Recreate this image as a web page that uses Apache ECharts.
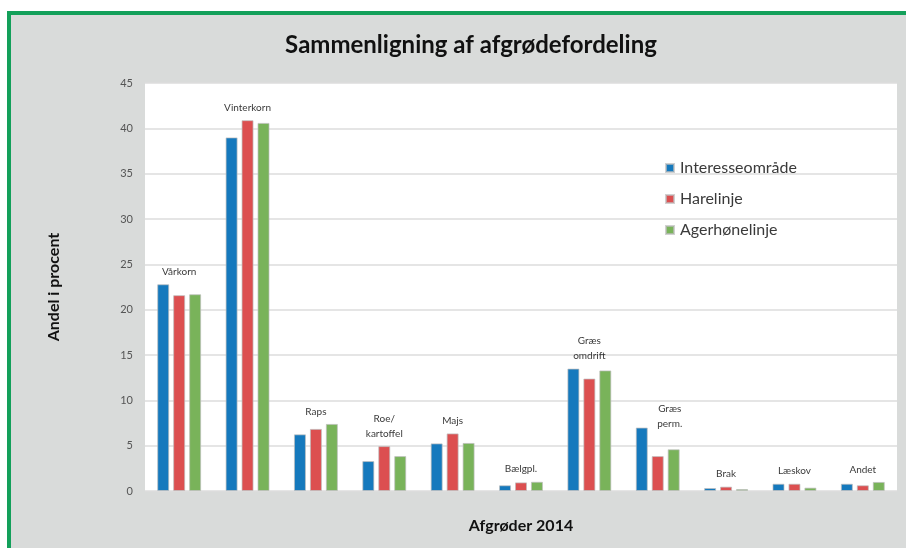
<!DOCTYPE html>
<html>
<head>
<meta charset="utf-8">
<script src="https://cdn.jsdelivr.net/npm/echarts@6/dist/echarts.min.js"></script>
<style>
html, body { margin: 0; padding: 0; background: #fff; }
#chart { width: 906px; height: 548px; }
</style>
</head>
<body>
<div id="chart"></div>
<script>
// Afgrøder og andele (%)
var afgroder = ['Vårkorn', 'Vinterkorn', 'Raps', 'Roe/\nkartoffel', 'Majs', 'Bælgpl.', 'Græs\nomdrift', 'Græs\nperm.', 'Brak', 'Læskov', 'Andet'];
var interesseomraade = [22.8, 39.0, 6.25, 3.3, 5.25, 0.63, 13.5, 7.0, 0.33, 0.8, 0.8];
var harelinje = [21.6, 40.9, 6.85, 4.95, 6.35, 0.95, 12.4, 3.85, 0.48, 0.8, 0.63];
var agerhonelinje = [21.7, 40.6, 7.4, 3.85, 5.3, 1.02, 13.3, 4.6, 0.22, 0.37, 1.0];
var yTicks = [0, 45, 5];

var fontFam = 'Lato, "Open Sans", sans-serif';

// hoejeste soejle i hver gruppe, til etiketten over gruppen
var gruppeTop = afgroder.map(function(navn, i) {
	var v = Math.max(interesseomraade[i], harelinje[i], agerhonelinje[i]);
	if (navn === 'Græs\nperm.') {
		return { value: v, label: { offset: [12, 9] } };
	}
	return v;
});

function barSerie(navn, data, farve) {
	return {
		name: navn,
		type: 'bar',
		data: data,
		barWidth: 12,
		barGap: '33%',
		itemStyle: {
			color: farve,
			borderColor: 'rgba(190,190,190,0.7)',
			borderWidth: 1
		}
	};
}

var myChart = echarts.init(document.getElementById('chart'));
var option = {
	backgroundColor: '#ffffff',
	animation: false,
	graphic: [{
		type: 'rect',
		z: -10,
		shape: { x: 9, y: 13, width: 1000, height: 600 },
		style: { fill: '#d9dbda', stroke: '#13a05a', lineWidth: 4 }
	}],
	title: {
		text: 'Sammenligning af afgrødefordeling',
		left: 466,
		textAlign: 'center',
		top: 28,
		textStyle: {
			fontFamily: fontFam,
			fontWeight: 'bold',
			fontSize: 24,
			color: '#111'
		}
	},
	legend: {
		orient: 'vertical',
		left: 660,
		top: 155,
		itemWidth: 8,
		itemHeight: 8,
		itemGap: 15,
		icon: 'rect',
		textStyle: {
			fontFamily: fontFam,
			fontSize: 16,
			color: '#3a3a3a',
			padding: [0, 0, 0, 1]
		},
		data: ['Interesseområde', 'Harelinje', 'Agerhønelinje']
	},
	grid: {
		left: 145,
		right: 9,
		top: 83,
		bottom: 57,
		show: true,
		backgroundColor: '#ffffff',
		borderWidth: 0
	},
	xAxis: {
		type: 'category',
		data: afgroder,
		name: 'Afgrøder 2014',
		nameLocation: 'middle',
		nameGap: 27,
		nameTextStyle: {
			fontFamily: fontFam,
			fontWeight: 'bold',
			fontSize: 16,
			color: '#111'
		},
		axisLine: { show: false },
		axisTick: { show: false },
		axisLabel: { show: false }
	},
	yAxis: {
		type: 'value',
		min: yTicks[0],
		max: yTicks[1],
		interval: yTicks[2],
		name: 'Andel i procent',
		nameLocation: 'middle',
		nameGap: 83,
		nameTextStyle: {
			fontFamily: fontFam,
			fontWeight: 'bold',
			fontSize: 16,
			color: '#111'
		},
		axisLine: { show: false },
		axisTick: { show: false },
		axisLabel: {
			margin: 12,
			fontFamily: fontFam,
			fontSize: 11,
			color: '#555'
		},
		splitLine: { lineStyle: { color: '#dcdcdc', width: 1.5 } }
	},
	series: [
		barSerie('Interesseområde', interesseomraade, '#1579bd'),
		barSerie('Harelinje', harelinje, '#dc4f50'),
		barSerie('Agerhønelinje', agerhonelinje, '#79b35a'),
		{
			name: 'etiket',
			type: 'scatter',
			data: gruppeTop,
			symbolSize: 0,
			silent: true,
			label: {
				show: true,
				position: 'top',
				distance: 5,
				fontFamily: fontFam,
				fontSize: 10,
				lineHeight: 15,
				color: '#000',
				formatter: function(p) {
					return afgroder[p.dataIndex];
				}
			}
		}
	]
};
myChart.setOption(option);
</script>
</body>
</html>
